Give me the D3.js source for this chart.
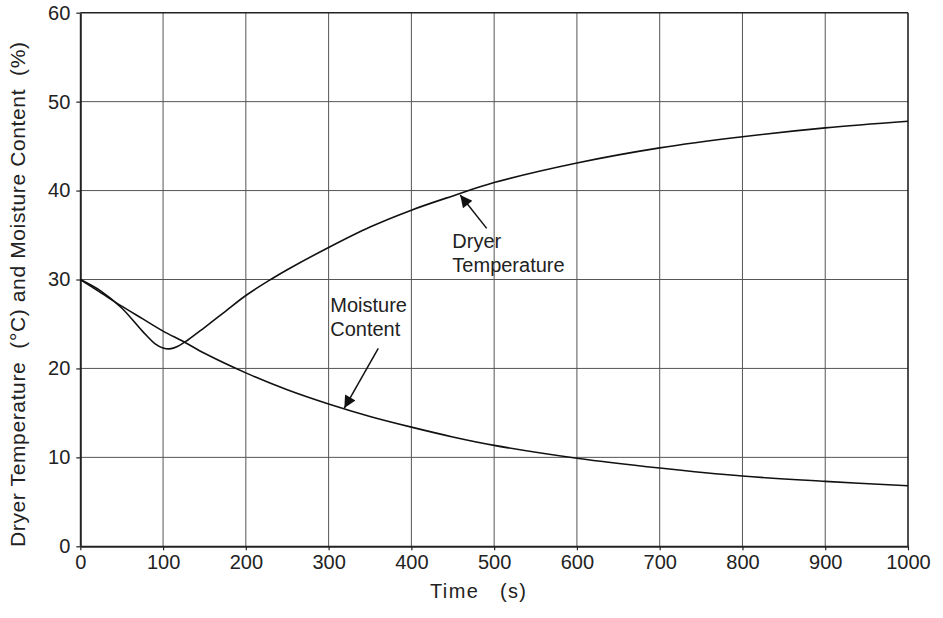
<!DOCTYPE html>
<html>
<head>
<meta charset="utf-8">
<script src="https://cdn.jsdelivr.net/npm/d3@7"></script>
<style>
  body { margin: 0; background: #fff; }
  svg { display: block; font-family: "Liberation Sans", Arial, sans-serif; }
  text { white-space: pre; }
</style>
</head>
<body>
<div id="chart"></div>
<script>
// Données
const time = [0, 25, 50, 75, 90, 100, 108, 118, 130, 150, 175, 200, 230, 250, 300, 350, 400, 450, 500, 600, 700, 800, 900, 1000];
const dryerTemp = [30, 28.7, 26.8, 24.2, 22.8, 22.3, 22.2, 22.5, 23.2, 24.6, 26.4, 28.2, 30.0, 31.1, 33.6, 35.9, 37.8, 39.4, 40.9, 43.1, 44.8, 46.05, 47.05, 47.8];
const timeM = [0, 25, 50, 75, 100, 125, 150, 200, 250, 300, 350, 400, 450, 500, 600, 700, 800, 900, 1000];
const moisture = [30, 28.5, 27.0, 25.6, 24.2, 23.0, 21.7, 19.5, 17.6, 16.0, 14.6, 13.4, 12.3, 11.35, 9.9, 8.8, 7.9, 7.3, 6.8];
const xTicks = [0, 100, 200, 300, 400, 500, 600, 700, 800, 900, 1000];
const yTicks = [0, 10, 20, 30, 40, 50, 60];

const width = 943;
const height = 618;
const margin = { top: 12.7, right: 35, bottom: 71.7, left: 80.3 };

const svg = d3.select("#chart")
  .append("svg")
  .attr("width", width)
  .attr("height", height);

const xScale = d3.scaleLinear().domain([0, 1000]).range([margin.left, width - margin.right]);
const yScale = d3.scaleLinear().domain([0, 60]).range([height - margin.bottom, margin.top]);

// grille
svg.append("g")
  .selectAll("line")
  .data(xTicks.slice(1, -1))
  .join("line")
  .attr("x1", d => xScale(d)).attr("x2", d => xScale(d))
  .attr("y1", yScale(0)).attr("y2", yScale(60))
  .attr("stroke", "#555").attr("stroke-width", 1);
svg.append("g")
  .selectAll("line")
  .data(yTicks.slice(1, -1))
  .join("line")
  .attr("x1", xScale(0)).attr("x2", xScale(1000))
  .attr("y1", d => yScale(d)).attr("y2", d => yScale(d))
  .attr("stroke", "#555").attr("stroke-width", 1);

// cadre haut et droite
svg.append("line")
  .attr("x1", xScale(0)).attr("x2", xScale(1000))
  .attr("y1", yScale(60)).attr("y2", yScale(60))
  .attr("stroke", "#222").attr("stroke-width", 1.6);
svg.append("line")
  .attr("x1", xScale(1000)).attr("x2", xScale(1000))
  .attr("y1", yScale(0)).attr("y2", yScale(60))
  .attr("stroke", "#222").attr("stroke-width", 1.6);

// axes
const xAxis = d3.axisBottom(xScale).tickValues(xTicks).tickFormat(d3.format("d"))
  .tickSize(4).tickPadding(5).tickSizeOuter(0);
const yAxis = d3.axisLeft(yScale).tickValues(yTicks).tickFormat(d3.format("d"))
  .tickSize(4).tickPadding(6).tickSizeOuter(0);

const gx = svg.append("g")
  .attr("transform", `translate(0, ${yScale(0)})`)
  .call(xAxis);
const gy = svg.append("g")
  .attr("transform", `translate(${xScale(0)}, 0)`)
  .call(yAxis);

[gx, gy].forEach(g => {
  g.attr("font-size", null).attr("font-family", null);
  g.select(".domain").attr("stroke", "#222").attr("stroke-width", 2);
  g.selectAll(".tick line").attr("stroke", "#222").attr("stroke-width", 1.2);
  g.selectAll(".tick text")
    .attr("fill", "#222")
    .style("font-size", "20px");
});

// titres des axes
svg.append("text")
  .attr("x", 430)
  .attr("y", 598)
  .attr("textLength", 96)
  .attr("lengthAdjust", "spacing")
  .attr("fill", "#222")
  .style("font-size", "20px")
  .text("Time   (s)");

svg.append("text")
  .attr("transform", `translate(25, 547) rotate(-90)`)
  .attr("textLength", 505)
  .attr("lengthAdjust", "spacing")
  .attr("fill", "#222")
  .style("font-size", "21px")
  .text("Dryer Temperature  (°C) and Moisture Content  (%)");

// courbes
const line = d3.line()
  .x(d => xScale(d[0]))
  .y(d => yScale(d[1]))
  .curve(d3.curveCatmullRom.alpha(0.5));

svg.append("path")
  .datum(time.map((t, i) => [t, dryerTemp[i]]))
  .attr("fill", "none")
  .attr("stroke", "#111")
  .attr("stroke-width", 1.6)
  .attr("d", line);

svg.append("path")
  .datum(timeM.map((t, i) => [t, moisture[i]]))
  .attr("fill", "none")
  .attr("stroke", "#111")
  .attr("stroke-width", 1.6)
  .attr("d", line);

// flèches d'annotation
svg.append("defs").append("marker")
  .attr("id", "arrow")
  .attr("viewBox", "0 0 10 10")
  .attr("refX", 10).attr("refY", 5)
  .attr("markerWidth", 15).attr("markerHeight", 12)
  .attr("markerUnits", "userSpaceOnUse")
  .attr("orient", "auto")
  .append("path")
  .attr("d", "M0,0 L10,5 L0,10 z")
  .attr("fill", "#111");

function annotation(x1, y1, x2, y2) {
  svg.append("line")
    .attr("x1", xScale(x1)).attr("y1", yScale(y1))
    .attr("x2", xScale(x2)).attr("y2", yScale(y2))
    .attr("stroke", "#111").attr("stroke-width", 1.5)
    .attr("marker-end", "url(#arrow)");
}
annotation(491, 35.75, 459, 39.5);
annotation(360, 22.25, 319, 15.55);

function label(x, y, lines) {
  const t = svg.append("text")
    .attr("fill", "#222")
    .style("font-size", "20px");
  lines.forEach((s, i) => {
    t.append("tspan")
      .attr("x", xScale(x))
      .attr("y", yScale(y) + i * 23.5)
      .text(s);
  });
}
label(449.5, 33.5, ["Dryer", "Temperature"]);
label(302, 26.3, ["Moisture", "Content"]);
</script>
</body>
</html>
